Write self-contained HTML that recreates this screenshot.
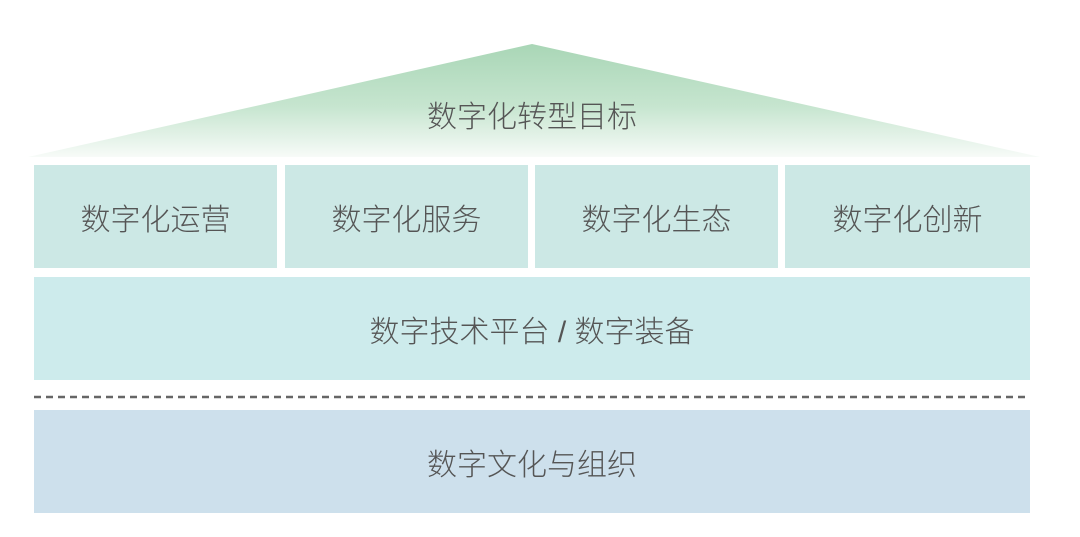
<!DOCTYPE html>
<html><head><meta charset="utf-8"><style>
body{margin:0;width:1080px;height:537px;background:#fff;position:relative;overflow:hidden;font-family:"Liberation Sans","Noto Sans CJK SC",sans-serif;color:#555}
.b{position:absolute;display:flex;align-items:center;justify-content:center;font-size:30px;font-weight:300}
</style></head><body>
<svg width="1080" height="537" style="position:absolute;left:0;top:0">
<defs><linearGradient id="g" x1="0" y1="0" x2="0" y2="1">
<stop offset="0" stop-color="#a9d6b6"/><stop offset="0.55" stop-color="#c6e5cf"/><stop offset="1" stop-color="#f7fbf8"/></linearGradient></defs>
<polygon points="532,44 1040,157 28,157" fill="url(#g)"/>
<line x1="34" y1="397" x2="1030" y2="397" stroke="#666" stroke-width="2.5" stroke-dasharray="7,5"/>
</svg>
<div class="b" style="left:0;width:1064px;top:92px;height:44px">数字化转型目标</div>
<div class="b" style="left:34px;top:165px;width:243px;height:103px;background:#cce8e5">数字化运营</div>
<div class="b" style="left:285px;top:165px;width:243px;height:103px;background:#cce8e5">数字化服务</div>
<div class="b" style="left:535px;top:165px;width:243px;height:103px;background:#cce8e5">数字化生态</div>
<div class="b" style="left:785px;top:165px;width:245px;height:103px;background:#cce8e5">数字化创新</div>
<div class="b" style="left:34px;top:277px;width:996px;height:103px;background:#cdebec">数字技术平台 / 数字装备</div>
<div class="b" style="left:34px;top:410px;width:996px;height:103px;background:#cde0ec">数字文化与组织</div>
</body></html>
